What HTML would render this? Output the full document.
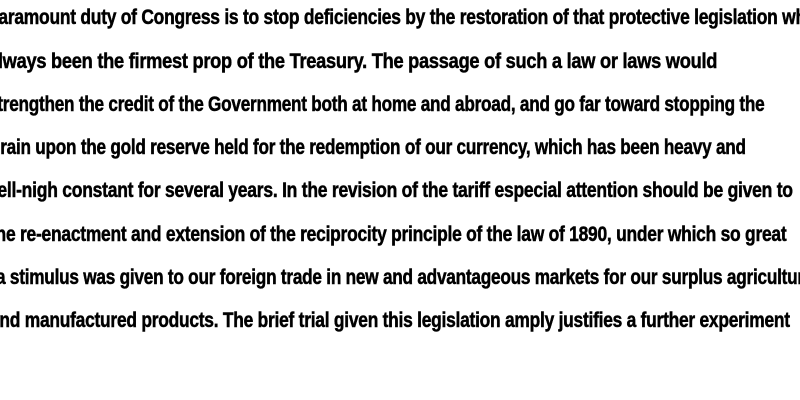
<!DOCTYPE html>
<html><head><meta charset="utf-8"><style>
body{margin:0;width:800px;height:400px;background:#fff;overflow:hidden;position:relative}
.l{position:absolute;white-space:nowrap;font-family:"Liberation Sans",sans-serif;font-weight:bold;font-size:21px;line-height:24px;color:#000;transform-origin:0 50%;letter-spacing:-0.3px;-webkit-text-stroke:0.5px #000}
</style></head><body>
<div class="l" style="left:-13px;top:6px;transform:scaleX(0.83)">Paramount duty of Congress is to stop deficiencies by the restoration of that protective legislation which has</div>
<div class="l" style="left:-12px;top:50px;transform:scaleX(0.868)">always been the firmest prop of the Treasury. The passage of such a law or laws would</div>
<div class="l" style="left:-12px;top:93px;transform:scaleX(0.818)">strengthen the credit of the Government both at home and abroad, and go far toward stopping the</div>
<div class="l" style="left:-10px;top:136px;transform:scaleX(0.818)">drain upon the gold reserve held for the redemption of our currency, which has been heavy and</div>
<div class="l" style="left:-16px;top:179px;transform:scaleX(0.834)">well-nigh constant for several years. In the revision of the tariff especial attention should be given to</div>
<div class="l" style="left:-10px;top:223px;transform:scaleX(0.83)">the re-enactment and extension of the reciprocity principle of the law of 1890, under which so great</div>
<div class="l" style="left:-4px;top:266px;transform:scaleX(0.82)">a stimulus was given to our foreign trade in new and advantageous markets for our surplus agricultural</div>
<div class="l" style="left:-10px;top:309px;transform:scaleX(0.828)">and manufactured products. The brief trial given this legislation amply justifies a further experiment</div>
</body></html>
